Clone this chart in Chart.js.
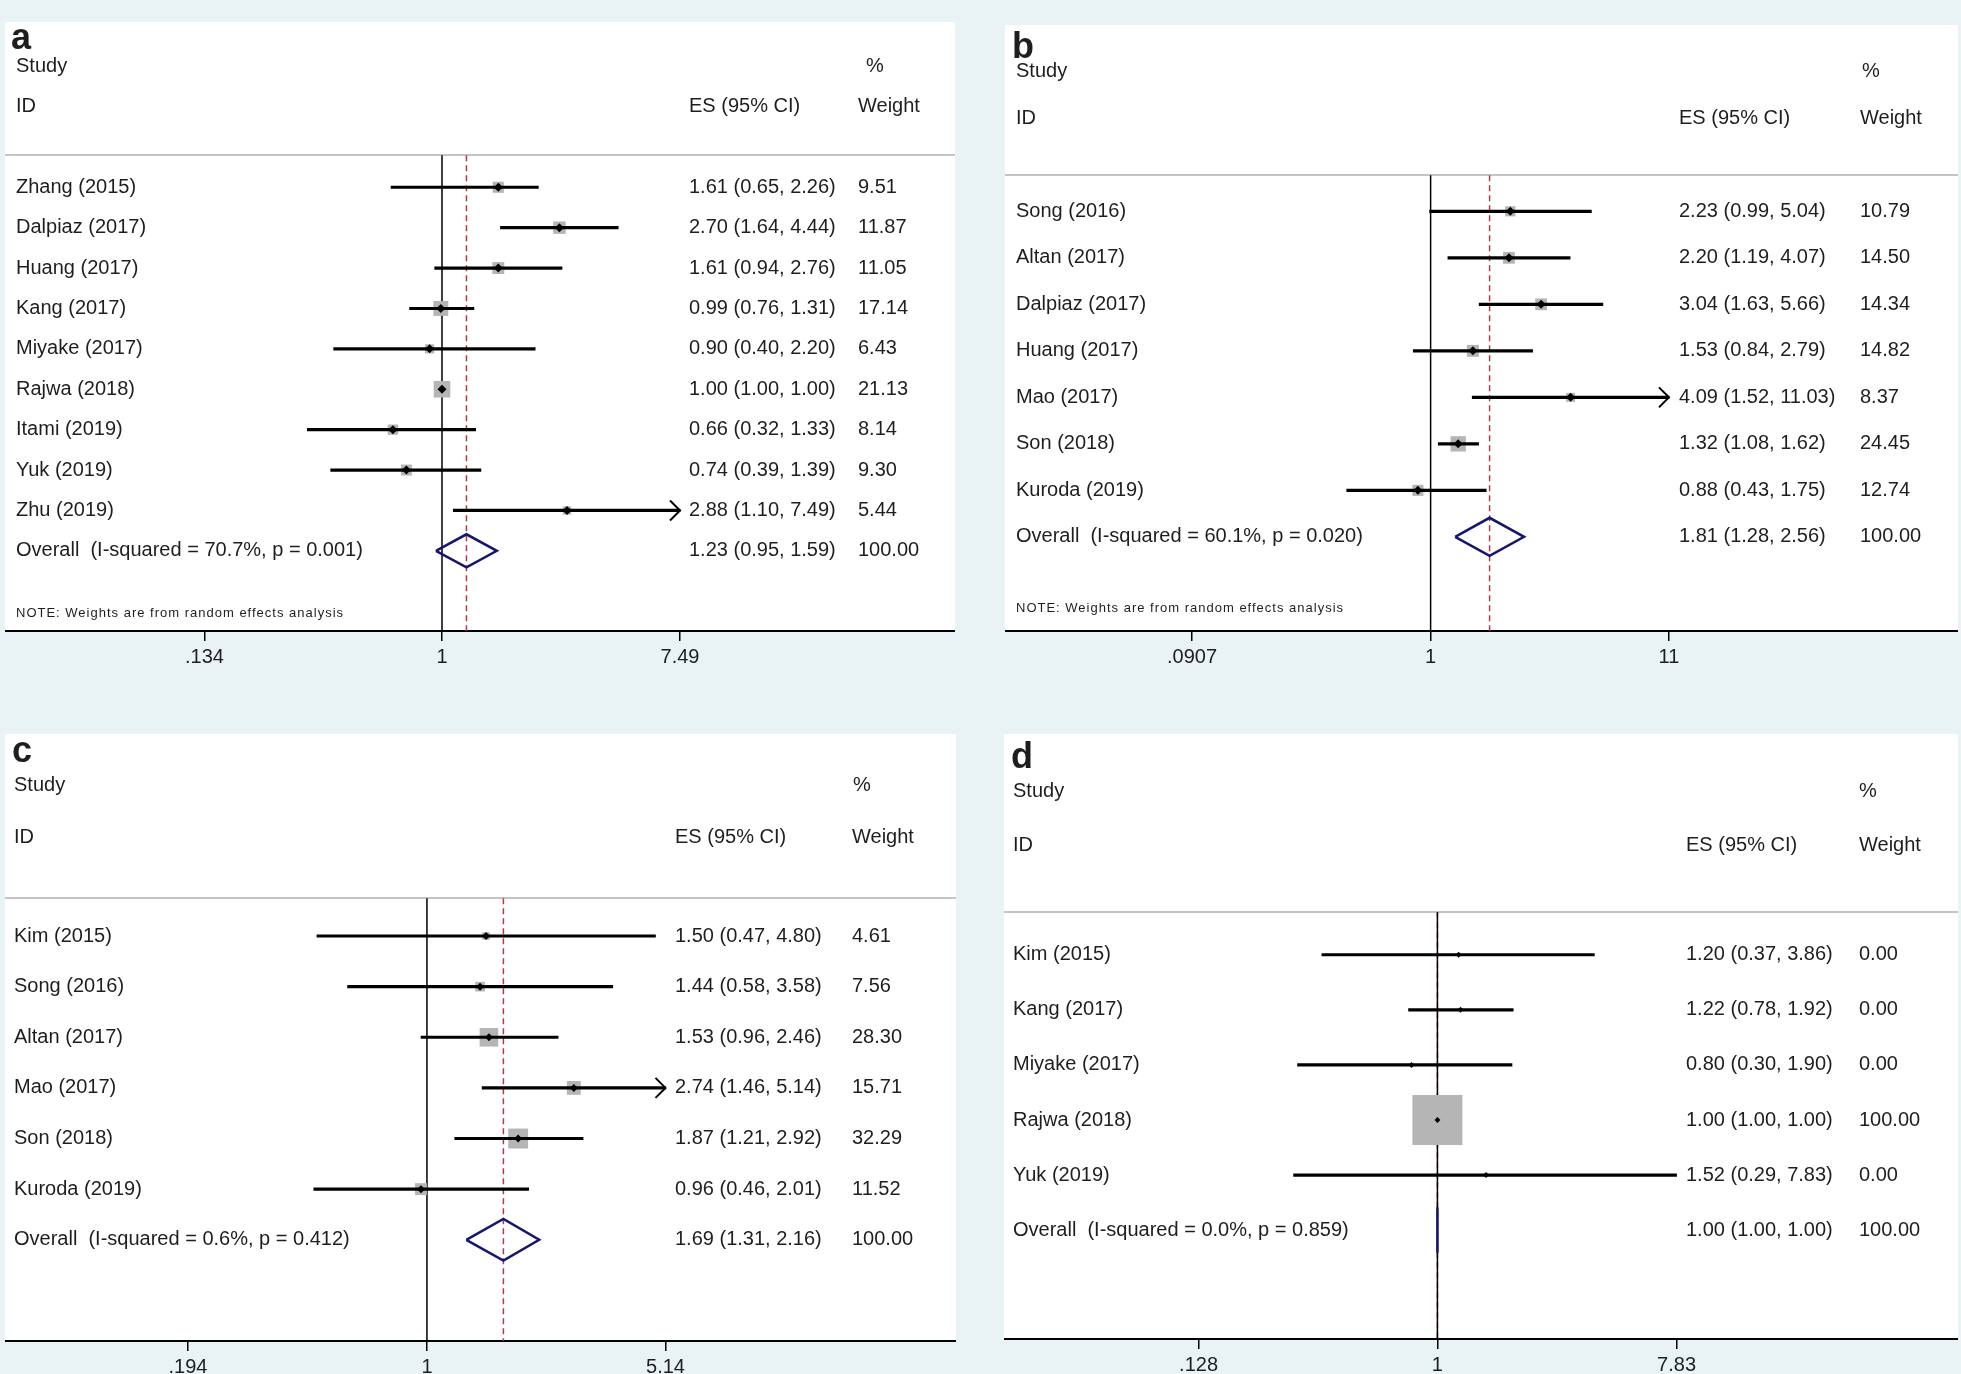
<!DOCTYPE html>
<html>
<head>
<meta charset="utf-8">
<title>Forest plots</title>
<script src="https://cdn.jsdelivr.net/npm/chart.js@4.4.1/dist/chart.umd.min.js"></script>
<style>
  html, body { margin: 0; padding: 0; }
  body { width: 1961px; height: 1374px; overflow: hidden; background: #e9f2f4; position: relative; }
  .panel { position: absolute; }
</style>
</head>
<body>
<div class="panel" style="left:5px;top:22px;width:950px;height:651px"><canvas id="forestA"></canvas></div>
<div class="panel" style="left:1005px;top:25px;width:953px;height:648px"><canvas id="forestB"></canvas></div>
<div class="panel" style="left:5px;top:734px;width:951px;height:649px"><canvas id="forestC"></canvas></div>
<div class="panel" style="left:1004px;top:734px;width:954px;height:647px"><canvas id="forestD"></canvas></div>
<script>
// ---- panel a ----
var aStudies = ['Zhang (2015)', 'Dalpiaz (2017)', 'Huang (2017)', 'Kang (2017)', 'Miyake (2017)', 'Rajwa (2018)', 'Itami (2019)', 'Yuk (2019)', 'Zhu (2019)'];
var aES      = [1.61, 2.70, 1.61, 0.99, 0.90, 1.00, 0.66, 0.74, 2.88];
var aLower   = [0.65, 1.64, 0.94, 0.76, 0.40, 1.00, 0.32, 0.39, 1.10];
var aUpper   = [2.26, 4.44, 2.76, 1.31, 2.20, 1.00, 1.33, 1.39, 7.49];
var aWeight  = [9.51, 11.87, 11.05, 17.14, 6.43, 21.13, 8.14, 9.30, 5.44];
var aOverall = [1.23, 0.95, 1.59];
var aHet     = [70.7, '0.001'];
var aTicks   = [0.134, 1, 7.49];
var aTickLabels = ['.134', '1', '7.49'];
var aArrows  = [8];

// ---- panel b ----
var bStudies = ['Song (2016)', 'Altan (2017)', 'Dalpiaz (2017)', 'Huang (2017)', 'Mao (2017)', 'Son (2018)', 'Kuroda (2019)'];
var bES      = [2.23, 2.20, 3.04, 1.53, 4.09, 1.32, 0.88];
var bLower   = [0.99, 1.19, 1.63, 0.84, 1.52, 1.08, 0.43];
var bUpper   = [5.04, 4.07, 5.66, 2.79, 11.03, 1.62, 1.75];
var bWeight  = [10.79, 14.50, 14.34, 14.82, 8.37, 24.45, 12.74];
var bOverall = [1.81, 1.28, 2.56];
var bHet     = [60.1, '0.020'];
var bTicks   = [0.0907, 1, 11];
var bTickLabels = ['.0907', '1', '11'];
var bArrows  = [4];

// ---- panel c ----
var cStudies = ['Kim (2015)', 'Song (2016)', 'Altan (2017)', 'Mao (2017)', 'Son (2018)', 'Kuroda (2019)'];
var cES      = [1.50, 1.44, 1.53, 2.74, 1.87, 0.96];
var cLower   = [0.47, 0.58, 0.96, 1.46, 1.21, 0.46];
var cUpper   = [4.80, 3.58, 2.46, 5.14, 2.92, 2.01];
var cWeight  = [4.61, 7.56, 28.30, 15.71, 32.29, 11.52];
var cOverall = [1.69, 1.31, 2.16];
var cHet     = [0.6, '0.412'];
var cTicks   = [0.194, 1, 5.14];
var cTickLabels = ['.194', '1', '5.14'];
var cArrows  = [3];

// ---- panel d ----
var dStudies = ['Kim (2015)', 'Kang (2017)', 'Miyake (2017)', 'Rajwa (2018)', 'Yuk (2019)'];
var dES      = [1.20, 1.22, 0.80, 1.00, 1.52];
var dLower   = [0.37, 0.78, 0.30, 1.00, 0.29];
var dUpper   = [3.86, 1.92, 1.90, 1.00, 7.83];
var dWeight  = [0.00, 0.00, 0.00, 100.00, 0.00];
var dOverall = [1.00, 1.00, 1.00];
var dHet     = [0.0, '0.859'];
var dTicks   = [0.128, 1, 7.83];
var dTickLabels = ['.128', '1', '7.83'];
var dArrows  = [];

var FONT = "'Liberation Sans', Arial, sans-serif";
Chart.defaults.font.family = FONT;
Chart.defaults.color = '#1e1e1e';

function fmtCI(es, lo, hi) {
  return es.toFixed(2) + ' (' + lo.toFixed(2) + ', ' + hi.toFixed(2) + ')';
}

//--------------
//- TEXT / FRAME PLUGIN -
//--------------
function forestPlugin(p) {
  return {
    id: 'forest' + p.letter,
    beforeDraw: function (chart) {
      var ctx = chart.ctx, a = chart.chartArea, ys = chart.scales.y;
      ctx.save();
      ctx.fillStyle = '#ffffff';
      ctx.fillRect(a.left, a.top, a.right - a.left, a.bottom - a.top);
      var yr = Math.round(ys.getPixelForValue(p.rows.sep));
      ctx.strokeStyle = '#c4c4c4';
      ctx.lineWidth = 2;
      ctx.beginPath();
      ctx.moveTo(a.left, yr);
      ctx.lineTo(a.right, yr);
      ctx.stroke();
      ctx.restore();
    },
    afterDatasetsDraw: function (chart) {
      var ctx = chart.ctx, xs = chart.scales.x, ys = chart.scales.y;
      var tickMax = p.ticks[p.ticks.length - 1];
      ctx.save();
      ctx.strokeStyle = '#000';
      ctx.lineWidth = 2;
      p.arrows.forEach(function (i) {
        var x = xs.getPixelForValue(Math.min(p.upper[i], tickMax));
        var y = ys.getPixelForValue(i);
        ctx.beginPath();
        ctx.moveTo(x - 10, y - 10);
        ctx.quadraticCurveTo(x - 4, y - 4, x, y);
        ctx.quadraticCurveTo(x - 4, y + 4, x - 10, y + 10);
        ctx.stroke();
      });
      ctx.restore();
    },
    afterDraw: function (chart) {
      var ctx = chart.ctx, ys = chart.scales.y, L = p.cols;
      var py = function (r) { return ys.getPixelForValue(r); };
      var n = p.studies.length;
      ctx.save();
      ctx.fillStyle = '#1e1e1e';
      ctx.textAlign = 'left';
      ctx.textBaseline = 'alphabetic';
      ctx.font = 'bold 36px ' + FONT;
      ctx.fillText(p.letter, L.label, py(p.rows.label));

      ctx.textBaseline = 'middle';
      ctx.font = '20px ' + FONT;
      ctx.fillText('Study', L.name, py(p.rows.study));
      ctx.fillText('%', L.pct, py(p.rows.study));
      ctx.fillText('ID', L.name, py(p.rows.id));
      ctx.fillText('ES (95% CI)', L.es, py(p.rows.id));
      ctx.fillText('Weight', L.weight, py(p.rows.id));

      p.studies.forEach(function (s, i) {
        ctx.fillText(s, L.name, py(i));
        ctx.fillText(fmtCI(p.es[i], p.lower[i], p.upper[i]), L.es, py(i));
        ctx.fillText(p.weight[i].toFixed(2), L.weight, py(i));
      });
      ctx.fillText('Overall  (I-squared = ' + p.het[0].toFixed(1) + '%, p = ' + p.het[1] + ')', L.name, py(n));
      ctx.fillText(fmtCI(p.overall[0], p.overall[1], p.overall[2]), L.es, py(n));
      ctx.fillText((100).toFixed(2), L.weight, py(n));

      if (p.rows.note != null) {
        ctx.font = '13px ' + FONT;
        ctx.letterSpacing = '1px';
        ctx.fillText('NOTE: Weights are from random effects analysis', L.name, py(p.rows.note));
      }
      ctx.restore();
    }
  };
}

//--------------
//- FOREST CHART -
//--------------
function forestChart(id, p) {
  var n = p.studies.length;
  var tickMax = p.ticks[p.ticks.length - 1];
  var points = p.es.map(function (v, i) { return {x: v, y: i}; });
  var ci = p.lower.map(function (v, i) { return {x: [v, Math.min(p.upper[i], tickMax)], y: i}; });
  var boxR = p.weight.map(function (w) { return p.boxScale * Math.sqrt(w) / (2 * Math.SQRT1_2); });
  var o = p.overall;
  var h = 0.41;
  var diamond = [
    {x: o[1], y: n}, {x: o[0], y: n - h}, {x: o[2], y: n}, {x: o[0], y: n + h}, {x: o[1], y: n}
  ];
  var nullLine = [{x: 1, y: p.rows.sep}, {x: 1, y: p.yMax}];
  var esLine = [{x: o[0], y: p.rows.sep}, {x: o[0], y: p.yMax}];

  return new Chart(document.getElementById(id), {
    type: 'scatter',
    data: {
      datasets: [
        {
          type: 'scatter', data: points, order: 0,
          pointStyle: 'rectRot', pointRadius: p.dot, pointHoverRadius: p.dot,
          backgroundColor: '#000', borderWidth: 0
        },
        {
          type: 'bar', data: ci, order: 1, indexAxis: 'y',
          barThickness: 2.5, backgroundColor: '#000', borderWidth: 0, grouped: false
        },
        {
          type: 'scatter', data: points, order: 2,
          pointStyle: 'rect', pointRadius: boxR, pointHoverRadius: boxR,
          backgroundColor: '#b5b5b5', borderWidth: 0
        },
        {
          type: 'line', data: diamond, order: 3,
          borderColor: '#16166e', borderWidth: 2.5, pointRadius: 0, fill: false, tension: 0
        },
        {
          type: 'line', data: nullLine, order: 4,
          borderColor: '#000', borderWidth: 1.5, pointRadius: 0, fill: false
        },
        {
          type: 'line', data: esLine, order: 5,
          borderColor: '#b03a48', borderWidth: 1.5, borderDash: [6, 4], pointRadius: 0, fill: false
        }
      ]
    },
    options: {
      responsive: true,
      maintainAspectRatio: false,
      animation: false,
      layout: { padding: 0, autoPadding: false },
      plugins: { legend: { display: false }, tooltip: { enabled: false } },
      scales: {
        x: {
          type: 'logarithmic',
          min: p.xMin,
          max: p.xMax,
          bounds: 'data',
          offset: false,
          afterBuildTicks: function (scale) {
            scale.ticks = p.ticks.map(function (v) { return {value: v}; });
          },
          ticks: {
            autoSkip: false, maxRotation: 0, padding: 4, color: '#1e1e1e',
            font: { size: 20 },
            callback: function (v, i) { return p.tickLabels[i]; }
          },
          grid: { drawOnChartArea: false, drawTicks: true, tickLength: 10, color: '#000', lineWidth: 1.5, offset: false },
          border: { display: true, color: '#000', width: 2 }
        },
        y: {
          type: 'linear', reverse: true, display: false, offset: false,
          grid: { offset: false },
          min: p.yMin, max: p.yMax
        }
      }
    },
    plugins: [forestPlugin(p)]
  });
}

forestChart('forestA', {
  letter: 'a', studies: aStudies, es: aES, lower: aLower, upper: aUpper, weight: aWeight,
  overall: aOverall, het: aHet, ticks: aTicks, tickLabels: aTickLabels, arrows: aArrows,
  xMin: Math.exp(-3.697), xMax: Math.exp(4.340), yMin: -4.091, yMax: 10.984,
  rows: { label: -3.42, study: -3.0, id: -2.01, sep: -0.794, note: 10.55 },
  cols: { label: 6, name: 11, es: 684, pct: 861, weight: 853 },
  boxScale: 3.6, dot: 4.5
});

forestChart('forestB', {
  letter: 'b', studies: bStudies, es: bES, lower: bLower, upper: bUpper, weight: bWeight,
  overall: bOverall, het: bHet, ticks: bTicks, tickLabels: bTickLabels, arrows: bArrows,
  xMin: Math.exp(-4.282), xMax: Math.exp(5.306), yMin: -4.006, yMax: 9.024,
  rows: { label: -3.295, study: -3.015, id: -2.003, sep: -0.775, note: 8.529 },
  cols: { label: 7, name: 11, es: 674, pct: 857, weight: 855 },
  boxScale: 3.1, dot: 4.5
});

forestChart('forestC', {
  letter: 'c', studies: cStudies, es: cES, lower: cLower, upper: cUpper, weight: cWeight,
  overall: cOverall, het: cHet, ticks: cTicks, tickLabels: cTickLabels, arrows: cArrows,
  xMin: Math.exp(-2.896), xMax: Math.exp(3.631), yMin: -3.990, yMax: 7.999,
  rows: { label: -3.436, study: -2.98, id: -1.95, sep: -0.744, note: null },
  cols: { label: 7, name: 9, es: 670, pct: 848, weight: 847 },
  boxScale: 3.5, dot: 4
});

forestChart('forestD', {
  letter: 'd', studies: dStudies, es: dES, lower: dLower, upper: dUpper, weight: dWeight,
  overall: dOverall, het: dHet, ticks: dTicks, tickLabels: dTickLabels, arrows: dArrows,
  xMin: Math.exp(-3.730), xMax: Math.exp(4.480), yMin: -4.006, yMax: 6.975,
  rows: { label: -3.39, study: -2.97, id: -1.99, sep: -0.772, note: null },
  cols: { label: 7, name: 9, es: 682, pct: 855, weight: 855 },
  boxScale: 5.0, dot: 3
});
</script>
</body>
</html>
